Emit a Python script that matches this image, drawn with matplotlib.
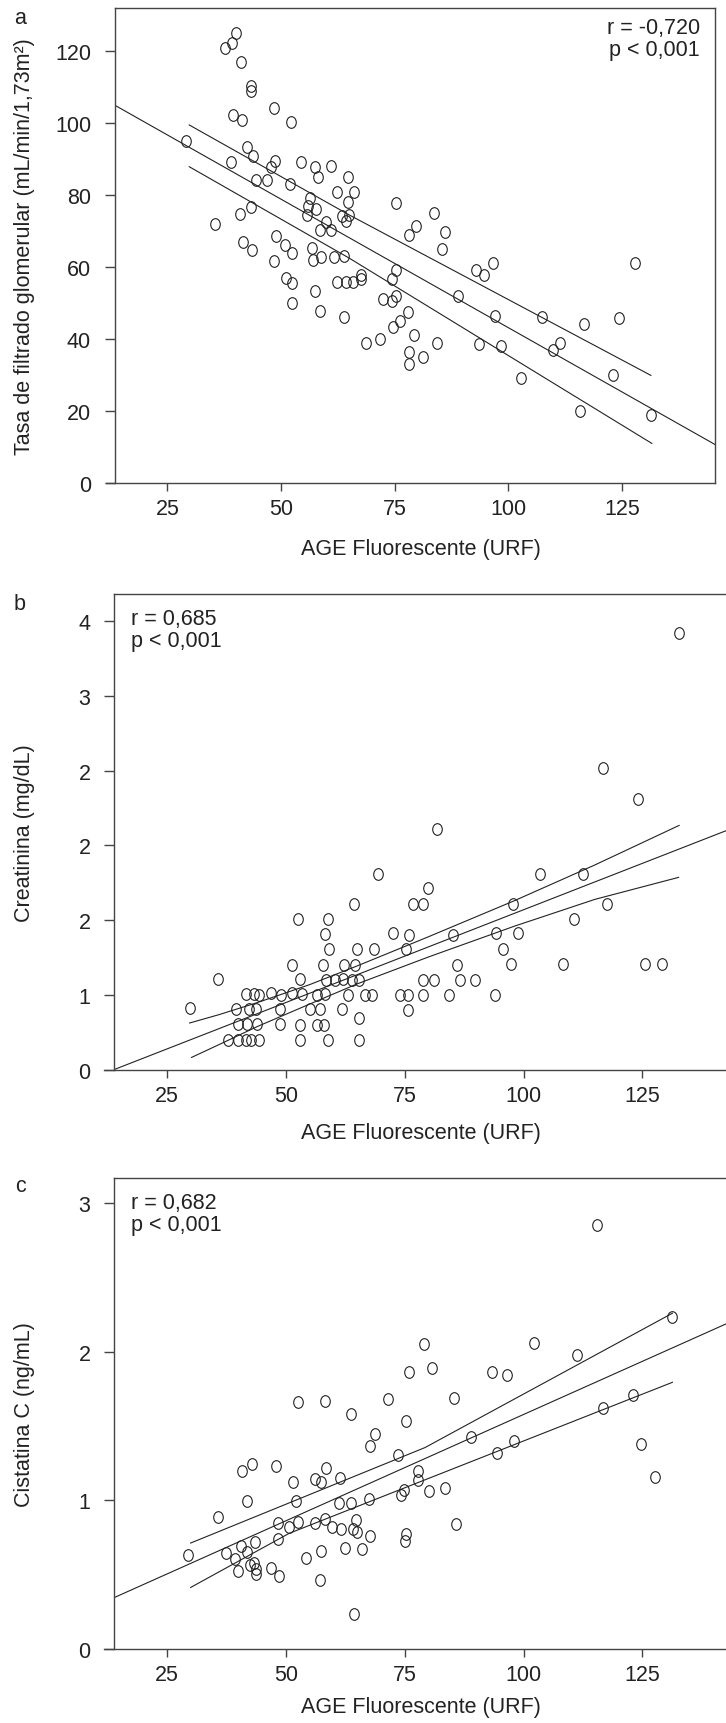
import numpy as np
import matplotlib
matplotlib.use("Agg")
import matplotlib.pyplot as plt
from matplotlib.path import Path
from matplotlib.transforms import Affine2D

plt.rcParams['font.family'] = ['Liberation Sans', 'DejaVu Sans']

# --- panel a: GFR vs AGE
gfr_x = [29.2, 35.4, 37.6, 39.3, 40.1, 41.1, 43.4, 43.4, 39.4, 41.5, 48.5, 52.3, 42.5, 43.8, 39.0, 48.6,
         47.8, 44.4, 46.9, 51.9, 54.4, 57.5, 61.1, 58.2, 64.8, 43.4, 40.9, 56.3, 56.0, 57.6, 55.7, 62.4,
         66.1, 64.7, 63.5, 64.3, 65.0, 59.8, 58.5, 61.1, 48.9, 50.8, 41.7, 43.7, 52.4, 56.8, 48.5, 57.1,
         58.7, 61.6, 63.9, 51.0, 52.4, 62.4, 64.3, 65.9, 67.5, 67.6, 52.5, 57.4, 58.6, 63.9, 68.7, 71.8,
         72.4, 74.4, 75.4, 74.5, 75.2, 75.3, 74.6, 76.2, 78.0, 79.2, 78.1, 78.1, 81.2, 78.1, 79.7, 83.7,
         86.0, 85.5, 84.4, 88.9, 93.0, 94.7, 96.6, 97.1, 93.6, 98.3, 102.7, 107.4, 109.9, 111.4, 116.7,
         115.7, 123.1, 124.4, 127.9, 131.4]
gfr_y = [95.0, 71.9, 120.8, 122.2, 125.1, 117.1, 110.4, 109.0, 102.3, 100.9, 104.1, 100.2, 93.4, 90.9,
         89.3, 89.5, 87.7, 84.3, 84.2, 83.1, 89.1, 87.7, 88.2, 85.1, 84.9, 76.6, 74.8, 79.2, 77.0, 76.2,
         74.4, 81.0, 80.9, 78.1, 74.1, 72.8, 74.4, 72.4, 70.3, 70.2, 68.6, 66.1, 67.1, 64.7, 63.9, 65.2,
         61.8, 61.9, 62.9, 62.9, 63.2, 57.1, 55.6, 55.8, 55.8, 55.8, 57.9, 56.6, 49.9, 53.3, 47.8, 46.1,
         38.8, 40.0, 51.1, 50.5, 52.1, 56.8, 59.3, 77.9, 43.4, 45.1, 47.4, 41.1, 36.3, 33.0, 35.0, 68.9,
         71.3, 75.0, 69.8, 65.0, 39.0, 52.1, 59.2, 57.8, 61.1, 46.3, 38.6, 38.0, 29.1, 46.1, 37.0, 38.9,
         44.2, 19.9, 30.1, 45.9, 61.1, 18.9]
gfr_fit_x = [13.4, 145.5]
gfr_fit_y = [105.0, 10.7]
gfr_up_x = [29.8, 65.0, 131.4]
gfr_up_y = [99.5, 74.5, 29.9]
gfr_lo_x = [29.8, 65.0, 131.6]
gfr_lo_y = [87.9, 62.5, 11.0]

# --- panel b: creatinine vs AGE
cr_x = [29.8, 35.8, 37.9, 39.5, 39.9, 39.9, 41.6, 41.6, 41.9, 42.2, 42.8, 43.4, 43.8, 44.0, 44.4, 44.4,
        47.0, 48.7, 48.9, 49.1, 51.4, 51.4, 52.6, 52.9, 52.9, 52.9, 53.4, 55.0, 56.6, 56.6, 57.2, 57.8,
        58.2, 58.0, 58.3, 58.4, 58.9, 59.2, 58.9, 60.4, 61.9, 62.1, 62.2, 63.1, 63.9, 64.3, 64.5, 65.0,
        65.3, 65.3, 65.5, 66.7, 68.2, 68.5, 69.4, 72.6, 74.1, 75.3, 75.7, 75.7, 76.0, 76.8, 78.9, 78.9,
        78.9, 79.9, 81.1, 81.8, 84.4, 85.2, 86.1, 86.7, 89.7, 93.9, 94.2, 95.6, 97.3, 97.8, 98.9, 103.5,
        108.3, 110.7, 112.4, 116.8, 117.6, 124.0, 125.6, 129.0, 132.6]
cr_y = [0.411, 0.609, 0.203, 0.408, 0.307, 0.203, 0.505, 0.203, 0.307, 0.408, 0.198, 0.507, 0.408, 0.307,
        0.203, 0.500, 0.517, 0.406, 0.307, 0.500, 0.703, 0.517, 1.012, 0.606, 0.302, 0.203, 0.510, 0.406,
        0.500, 0.302, 0.406, 0.703, 0.908, 0.302, 0.507, 0.604, 1.012, 0.809, 0.203, 0.604, 0.406, 0.606,
        0.703, 0.500, 0.604, 1.111, 0.703, 0.809, 0.604, 0.349, 0.203, 0.500, 0.500, 0.809, 1.312, 0.913,
        0.500, 0.809, 0.500, 0.403, 0.903, 1.111, 1.111, 0.500, 0.604, 1.213, 0.604, 1.611, 0.500, 0.903,
        0.703, 0.604, 0.604, 0.500, 0.913, 0.809, 0.705, 1.111, 0.913, 1.312, 0.705, 1.012, 1.312, 2.017,
        1.111, 1.809, 0.705, 0.705, 2.921]
cr_fit_x = [14.1, 145.5]
cr_fit_y = [0.005, 1.635]
cr_up_x = [29.8, 36.0, 44.0, 55.0, 65.0, 80.0, 98.0, 115.0, 132.7]
cr_up_y = [0.314, 0.370, 0.450, 0.570, 0.695, 0.890, 1.130, 1.370, 1.634]
cr_lo_x = [30.2, 36.0, 44.0, 55.0, 65.0, 80.0, 98.0, 115.0, 132.6]
cr_lo_y = [0.084, 0.170, 0.290, 0.440, 0.575, 0.755, 0.960, 1.140, 1.287]
cr_ticks = [0, 0.5, 1.0, 1.5, 2.0, 2.5, 3.0]
cr_tick_labels = ['0', '1', '2', '2', '2', '3', '4']

# --- panel c: cystatin C vs AGE
cys_x = [29.5, 35.8, 37.5, 39.4, 40.0, 40.6, 40.8, 41.8, 41.9, 42.4, 43.0, 43.4, 43.5, 43.7, 43.8, 47.0,
         48.0, 48.3, 48.3, 48.5, 50.7, 51.5, 52.2, 52.5, 52.5, 54.3, 56.2, 56.2, 57.2, 57.4, 57.5, 58.3,
         58.4, 58.3, 59.8, 61.4, 61.2, 61.6, 62.4, 63.8, 63.8, 64.1, 64.3, 64.8, 65.0, 66.1, 67.5, 67.7,
         67.8, 68.8, 71.6, 73.6, 74.2, 74.8, 75.2, 75.3, 75.1, 76.0, 77.9, 77.9, 79.1, 80.1, 80.8, 83.5,
         85.3, 85.7, 89.0, 93.4, 94.4, 96.5, 97.9, 102.2, 111.2, 115.4, 116.7, 123.0, 124.6, 127.7, 131.3]
cys_y = [0.635, 0.889, 0.645, 0.608, 0.522, 0.695, 1.200, 0.650, 0.997, 0.565, 1.248, 0.582, 0.723, 0.540,
         0.502, 0.545, 1.235, 0.851, 0.743, 0.490, 0.821, 1.122, 0.994, 1.665, 0.856, 0.613, 1.147, 0.851,
         0.467, 1.125, 0.660, 1.670, 1.218, 0.874, 0.821, 1.152, 0.982, 0.806, 0.678, 1.582, 0.984, 0.808,
         0.233, 0.871, 0.786, 0.670, 1.007, 1.368, 0.758, 1.446, 1.685, 1.303, 1.039, 1.070, 1.537, 0.773,
         0.728, 1.865, 1.195, 1.135, 2.056, 1.065, 1.888, 1.082, 1.690, 0.841, 1.426, 1.863, 1.318, 1.843,
         1.398, 2.059, 1.981, 2.855, 1.622, 1.710, 1.381, 1.160, 2.235]
cys_fit_x = [13.8, 145.5]
cys_fit_y = [0.344, 2.230]
cys_up_x = [30.0, 79.3, 131.3]
cys_up_y = [0.713, 1.356, 2.260]
cys_lo_x = [30.0, 50.7, 131.3]
cys_lo_y = [0.414, 0.778, 1.795]

xlabel = "AGE Fluorescente (URF)"
x_ticks = [25, 50, 75, 100, 125]

W, H = 726, 1724
FS = 15.5
fig = plt.figure(figsize=(W / 100, H / 100), dpi=100)

def px_box(left, top, right, bottom):
    return [left / W, (H - bottom) / H, (right - left) / W, (bottom - top) / H]

ell = Path.unit_circle().transformed(Affine2D().scale(0.82, 1.0))
ink = '#222222'
axc = '#444444'

panels = [
    dict(box=px_box(114.7, 9, 715, 484), xlim=(13.4, 145.5), ylim=(0, 132), x=gfr_x, y=gfr_y,
         fit=(gfr_fit_x, gfr_fit_y), up=(gfr_up_x, gfr_up_y), lo=(gfr_lo_x, gfr_lo_y),
         yticks=[0, 20, 40, 60, 80, 100, 120], ylabels=None,
         ylabel="Tasa de filtrado glomerular (mL/min/1,73m²)", letter='a', letter_y=19,
         stats="r = -0,720\np < 0,001", right=True, xlab_y=549, stats_y=18),
    dict(box=px_box(114, 595, 740, 1071), xlim=(13.9, 145.5), ylim=(0, 3.18), x=cr_x, y=cr_y,
         fit=(cr_fit_x, cr_fit_y), up=(cr_up_x, cr_up_y), lo=(cr_lo_x, cr_lo_y),
         yticks=cr_ticks, ylabels=cr_tick_labels,
         ylabel="Creatinina (mg/dL)", letter='b', letter_y=605,
         stats="r = 0,685\np < 0,001", right=False, xlab_y=1134, stats_y=609),
    dict(box=px_box(114, 1179, 740, 1650), xlim=(13.9, 145.5), ylim=(0, 3.17), x=cys_x, y=cys_y,
         fit=(cys_fit_x, cys_fit_y), up=(cys_up_x, cys_up_y), lo=(cys_lo_x, cys_lo_y),
         yticks=[0, 1, 2, 3], ylabels=None,
         ylabel="Cistatina C (ng/mL)", letter='c', letter_y=1186,
         stats="r = 0,682\np < 0,001", right=False, xlab_y=1708, stats_y=1193),
]

for p in panels:
    ax = fig.add_axes(p['box'])
    ax.plot(*p['fit'], color=ink, lw=0.8)
    ax.plot(*p['up'], color=ink, lw=0.8)
    ax.plot(*p['lo'], color=ink, lw=0.8)
    ax.plot(p['x'], p['y'], linestyle='none', marker=ell, markersize=8.4,
            markerfacecolor='none', markeredgecolor=ink, markeredgewidth=0.8)
    ax.set_xlim(*p['xlim'])
    ax.set_ylim(*p['ylim'])
    ax.set_xticks(x_ticks)
    ax.set_yticks(p['yticks'])
    if p['ylabels'] is not None:
        ax.set_yticklabels(p['ylabels'])
    for s in ax.spines.values():
        s.set_color(axc)
        s.set_linewidth(1.0)
    ax.spines['right'].set_visible(p['right'])
    ax.spines['bottom'].set_bounds(p['xlim'][0] - 2.0, p['xlim'][1])
    ax.tick_params(axis='x', direction='out', length=6, width=1, color=axc, pad=5, labelsize=FS,
                   labelcolor=ink)
    ax.tick_params(axis='y', direction='out', length=7, width=1, color=axc, pad=10, labelsize=FS,
                   labelcolor=ink)
    b = p['box']
    cy = b[1] + b[3] / 2
    fig.text(25 / W, cy, p['ylabel'], rotation=90, ha='center', va='center', fontsize=FS, color=ink)
    fig.text(421 / W, (H - p['xlab_y']) / H, xlabel, ha='center', va='center', fontsize=FS, color=ink)
    fig.text(20 / W, (H - p['letter_y']) / H, p['letter'], ha='center', va='center', fontsize=FS, color=ink)
    if p['right']:
        fig.text(700 / W, (H - p['stats_y']) / H, p['stats'], ha='right', va='top',
                 fontsize=FS, linespacing=1.05, color=ink)
    else:
        fig.text(131 / W, (H - p['stats_y']) / H, p['stats'], ha='left', va='top',
                 fontsize=FS, linespacing=1.05, color=ink)

fig.savefig("out.png", dpi=100)
